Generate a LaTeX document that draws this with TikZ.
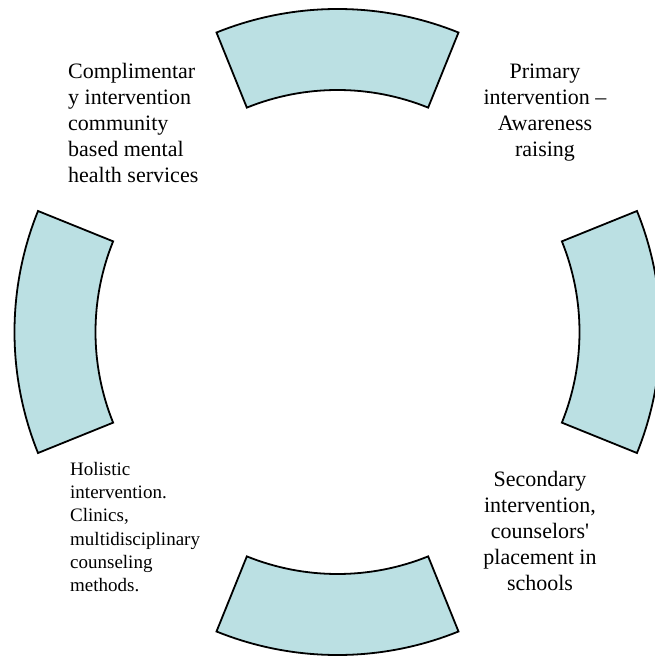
\documentclass[tikz,border=0pt]{standalone}
\usepackage{fontspec}
\setmainfont{Liberation Serif}
\usepackage{tikz}
\usetikzlibrary{positioning}
\definecolor{ringfill}{RGB}{187,224,227}
\tikzset{
  ring/.style={draw, line width=1.8pt, fill=ringfill, line join=miter},
  maintext/.style={inner sep=0pt, font=\fontsize{22}{26}\selectfont},
  smalltext/.style={inner sep=0pt, font=\fontsize{19}{23.3}\selectfont},
}

\begin{document}
\begin{tikzpicture}[x=1pt,y=1pt]
    \useasboundingbox (-337.5,-324) rectangle (317.5,332);
    \clip (-337.5,-324) rectangle (317.5,332);
    % four pieces of the ring, one per quarter
    \foreach \a in {90,0,270,180}
      \draw[ring] ({\a-22}:323pt) arc[start angle=\a-22, end angle=\a+22, radius=323pt]
        -- ({\a+22}:242pt) arc[start angle=\a+22, end angle=\a-22, radius=242pt] -- cycle;

    \node[maintext, anchor=north west, align=left] (comp) at (-269.5,269)
      {Complimentar\\y intervention\\community\\based mental\\health services};
    \node[maintext, anchor=north, align=center] (prim) at (207.5,268)
      {Primary\\intervention --\\Awareness\\raising};
    \node[maintext, anchor=north, align=center] (sec) at (202.5,-139)
      {Secondary\\intervention,\\counselors\textquotesingle\\placement in\\schools};
    \node[smalltext, anchor=north west, align=left] (hol) at (-267.5,-130)
      {Holistic\\intervention.\\Clinics,\\multidisciplinary\\counseling\\methods.};
\end{tikzpicture}
\end{document}
